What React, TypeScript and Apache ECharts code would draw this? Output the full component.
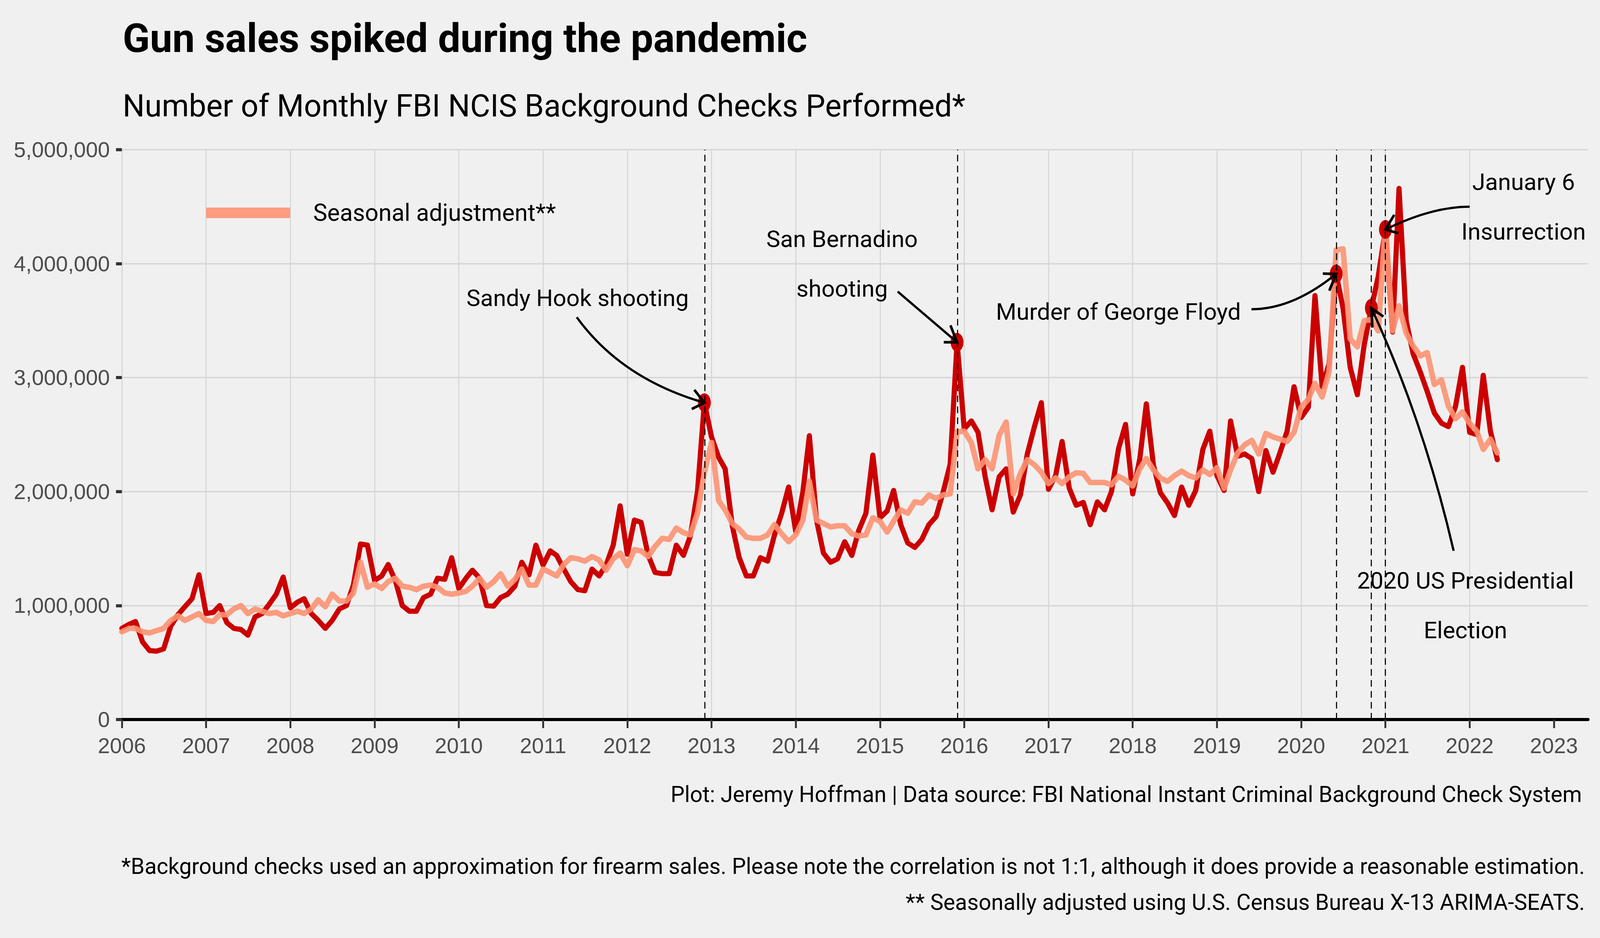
import { useEffect, useRef } from "react";
import * as echarts from "echarts";

// Monthly FBI NICS background checks (millions), Jan 2006 – May 2022
const monthlyChecks = [
  0.8, 0.835, 0.86, 0.68, 0.605, 0.6, 0.62, 0.82, 0.92, 0.99, 1.06, 1.27, // 2006
  0.93, 0.94, 1.0, 0.85, 0.8, 0.79, 0.74, 0.9, 0.93, 1.01, 1.1, 1.25, // 2007
  0.98, 1.03, 1.06, 0.93, 0.87, 0.8, 0.87, 0.97, 1.0, 1.18, 1.54, 1.53, // 2008
  1.22, 1.26, 1.36, 1.22, 1.0, 0.95, 0.95, 1.07, 1.1, 1.24, 1.23, 1.42, // 2009
  1.15, 1.24, 1.31, 1.24, 1.0, 0.995, 1.07, 1.1, 1.17, 1.38, 1.27, 1.53, // 2010
  1.355, 1.48, 1.44, 1.32, 1.21, 1.14, 1.13, 1.32, 1.26, 1.355, 1.53, 1.875, // 2011
  1.45, 1.75, 1.73, 1.44, 1.29, 1.28, 1.28, 1.53, 1.44, 1.61, 2.0, 2.78, // 2012
  2.48, 2.3, 2.2, 1.7, 1.42, 1.26, 1.26, 1.42, 1.39, 1.62, 1.81, 2.04, // 2013
  1.65, 2.0, 2.49, 1.75, 1.46, 1.38, 1.41, 1.56, 1.44, 1.66, 1.81, 2.32, // 2014
  1.77, 1.83, 2.01, 1.71, 1.55, 1.51, 1.58, 1.71, 1.78, 1.99, 2.24, 3.31, // 2015
  2.55, 2.62, 2.52, 2.13, 1.84, 2.13, 2.2, 1.82, 1.97, 2.33, 2.57, 2.78, // 2016
  2.02, 2.14, 2.44, 2.03, 1.88, 1.905, 1.71, 1.91, 1.84, 2.0, 2.38, 2.59, // 2017
  1.98, 2.29, 2.77, 2.23, 1.99, 1.9, 1.79, 2.04, 1.88, 2.01, 2.37, 2.53, // 2018
  2.14, 2.01, 2.62, 2.31, 2.33, 2.29, 2.0, 2.36, 2.17, 2.34, 2.53, 2.92, // 2019
  2.65, 2.74, 3.72, 2.92, 3.12, 3.91, 3.61, 3.09, 2.85, 3.29, 3.61, 3.89, // 2020
  4.3, 3.4, 4.66, 3.5, 3.21, 3.05, 2.88, 2.69, 2.6, 2.57, 2.75, 3.09, // 2021
  2.52, 2.5, 3.02, 2.53, 2.28, // 2022
];

// Seasonally adjusted series (millions)
const seasonalAdjusted = [
  0.77, 0.8, 0.8, 0.77, 0.76, 0.78, 0.8, 0.87, 0.91, 0.87, 0.9, 0.93, // 2006
  0.87, 0.86, 0.92, 0.92, 0.97, 1.0, 0.93, 0.97, 0.95, 0.93, 0.94, 0.91, // 2007
  0.93, 0.95, 0.93, 0.97, 1.05, 0.99, 1.1, 1.04, 1.04, 1.11, 1.38, 1.16, // 2008
  1.19, 1.15, 1.21, 1.24, 1.17, 1.16, 1.14, 1.17, 1.18, 1.16, 1.11, 1.1, // 2009
  1.11, 1.125, 1.17, 1.24, 1.16, 1.21, 1.28, 1.17, 1.23, 1.32, 1.18, 1.18, // 2010
  1.32, 1.29, 1.26, 1.36, 1.42, 1.41, 1.39, 1.43, 1.4, 1.31, 1.41, 1.46, // 2011
  1.35, 1.49, 1.48, 1.43, 1.52, 1.59, 1.58, 1.68, 1.64, 1.62, 1.81, 2.17, // 2012
  2.43, 1.92, 1.84, 1.72, 1.67, 1.6, 1.59, 1.59, 1.62, 1.71, 1.63, 1.56, // 2013
  1.62, 1.75, 2.09, 1.75, 1.72, 1.69, 1.7, 1.7, 1.63, 1.61, 1.62, 1.77, // 2014
  1.74, 1.645, 1.74, 1.84, 1.81, 1.91, 1.9, 1.97, 1.94, 1.97, 1.98, 2.525, // 2015
  2.53, 2.43, 2.2, 2.28, 2.2, 2.495, 2.61, 1.98, 2.16, 2.28, 2.235, 2.17, // 2016
  2.07, 2.12, 2.07, 2.13, 2.165, 2.16, 2.08, 2.08, 2.08, 2.06, 2.135, 2.1, // 2017
  2.05, 2.2, 2.29, 2.19, 2.12, 2.09, 2.14, 2.18, 2.14, 2.12, 2.19, 2.15, // 2018
  2.21, 2.03, 2.19, 2.34, 2.41, 2.45, 2.33, 2.51, 2.48, 2.46, 2.44, 2.52, // 2019
  2.74, 2.81, 2.95, 2.83, 3.05, 4.12, 4.13, 3.34, 3.27, 3.5, 3.51, 3.41, // 2020
  4.36, 3.41, 3.63, 3.39, 3.28, 3.19, 3.22, 2.94, 2.98, 2.75, 2.64, 2.7, // 2021
  2.6, 2.53, 2.37, 2.46, 2.34, // 2022
];

const FIRST_YEAR = 2006;
const yearTicks = [
  2006, 2007, 2008, 2009, 2010, 2011, 2012, 2013, 2014, 2015, 2016, 2017,
  2018, 2019, 2020, 2021, 2022, 2023,
];

// event months (1-based) that get a dashed line and a dot
const eventYears = [2012, 2015, 2020, 2020, 2021];
const eventMonths = [12, 12, 6, 11, 1];

// annotation text, text centre, arrow start and control point, in [year, millions]
const annotations = [
  { text: "Sandy Hook shooting", at: [2011.41, 3.7], from: [2011.4, 3.53], ctrl: [2011.93, 2.99], event: 0 },
  { text: "San Bernadino\nshooting", at: [2014.55, 4.0], from: [2015.21, 3.755], ctrl: null, event: 1 },
  { text: "Murder of George Floyd", at: [2017.83, 3.58], from: [2019.41, 3.6], ctrl: [2019.9, 3.6], event: 2 },
  { text: "2020 US Presidential\nElection", at: [2021.95, 1.0], from: [2021.81, 1.48], ctrl: [2021.45, 2.63], event: 3 },
  { text: "January 6\nInsurrection", at: [2022.64, 4.5], from: [2022.0, 4.5], ctrl: [2021.55, 4.5], event: 4 },
];

const RED = "#cc0000";
const SALMON = "rgba(252, 146, 114, 0.9)";
const AXIS_FONT = "'Liberation Sans', Arial, sans-serif";
const TEXT_FONT = "Roboto";

function monthToYear(year: number, month: number): number {
  const start = Date.UTC(year, 0, 1);
  const end = Date.UTC(year + 1, 0, 1);
  return year + (Date.UTC(year, month - 1, 1) - start) / (end - start);
}

function indexToYear(i: number): number {
  return monthToYear(FIRST_YEAR + Math.floor(i / 12), (i % 12) + 1);
}

export default function App() {
  const ref = useRef<HTMLDivElement | null>(null);

  useEffect(() => {
    document.body.style.margin = "0";
    document.body.style.overflow = "hidden";
    const el = ref.current;
    if (!el) return;
    const W = window.innerWidth || 6000;
    const H = window.innerHeight || 2400;
    el.style.width = W + "px";
    el.style.height = H + "px";
    // layout is designed on a 6000 x 2400 frame
    const sx = W / 6000;
    const sy = H / 2400;
    const sf = Math.min(sx, sy);
    const sm = Math.sqrt(sx * sy);

    const chart = echarts.init(el, undefined, { renderer: "svg" });

    const eventIdx = eventYears.map((y, i) => (y - FIRST_YEAR) * 12 + eventMonths[i] - 1);
    const eventPoints = eventIdx.map((i) => [indexToYear(i), monthlyChecks[i] * 1e6]);

    chart.setOption({
      animation: false,
      backgroundColor: "#f0f0f0",
      textStyle: { fontFamily: TEXT_FONT },
      grid: { left: 457 * sx, right: 45 * sx, top: 383 * sy, bottom: 559 * sy },
      legend: {
        left: 773 * sx,
        top: 514 * sy,
        padding: 0,
        itemWidth: 315 * sx,
        itemHeight: 27 * sy,
        icon: "rect",
        data: ["Seasonal adjustment**"],
        selectedMode: false,
        textStyle: { fontSize: 89 * sf, color: "#000", fontFamily: TEXT_FONT, padding: [0, 0, 0, 79 * sx] },
      },
      xAxis: {
        type: "value",
        min: 2006,
        max: 2023.405,
        interval: 1,
        axisLine: { show: true, onZero: false, lineStyle: { color: "#000", width: 8 * sy } },
        axisTick: { show: true, length: 22 * sy, customValues: yearTicks, lineStyle: { color: "#333", width: 7 * sx } },
        axisLabel: {
          customValues: yearTicks,
          formatter: (v: number) => (Number.isInteger(v) ? String(v) : ""),
          fontSize: 81 * sf,
          color: "#4d4d4d",
          margin: 39 * sy,
          fontFamily: AXIS_FONT,
        },
        splitLine: { show: true, showMaxLine: false, lineStyle: { color: "#d6d6d6", width: 4 * sx } },
      },
      yAxis: {
        type: "value",
        min: 0,
        max: 5e6,
        interval: 1e6,
        axisLine: { show: false },
        axisTick: { show: true, length: 22 * sx, lineStyle: { color: "#333", width: 8 * sy } },
        axisLabel: {
          fontSize: 81 * sf,
          color: "#4d4d4d",
          margin: 45 * sx,
          fontFamily: AXIS_FONT,
          formatter: (v: number) => v.toLocaleString("en-US"),
        },
        splitLine: { show: true, lineStyle: { color: "#d6d6d6", width: 3.5 * sy } },
      },
      series: [
        {
          name: "Background checks",
          type: "line",
          symbol: "none",
          color: RED,
          lineStyle: { color: RED, width: 16 * sm, join: "round", cap: "round" },
          data: monthlyChecks.map((v, i) => [indexToYear(i), v * 1e6]),
          emphasis: { disabled: true },
          z: 2,
        },
        {
          name: "Seasonal adjustment**",
          type: "line",
          symbol: "none",
          color: SALMON,
          lineStyle: { color: SALMON, width: 17 * sm, join: "round", cap: "round" },
          data: seasonalAdjusted.map((v, i) => [indexToYear(i), v * 1e6]),
          emphasis: { disabled: true },
          z: 3,
        },
        {
          name: "Events",
          type: "scatter",
          symbol: "circle",
          symbolSize: [48 * sx, 48 * sy],
          itemStyle: { color: RED, opacity: 1 },
          data: eventPoints,
          emphasis: { disabled: true },
          z: 4,
          markLine: {
            silent: true,
            symbol: ["none", "none"],
            label: { show: false },
            lineStyle: { color: "#000", width: 4 * sx, type: [17 * sy, 11 * sy] },
            data: eventIdx.map((i) => ({ xAxis: indexToYear(i) })),
          },
        },
      ],
    });

    const px = (p: number[]) => chart.convertToPixel({ gridIndex: 0 }, [p[0], p[1] * 1e6]) as number[];
    const graphics: any[] = [];

    annotations.forEach((a) => {
      const start = px(a.from);
      const end = chart.convertToPixel({ gridIndex: 0 }, eventPoints[a.event]) as number[];
      const c = a.ctrl ? px(a.ctrl) : [(start[0] + end[0]) / 2, (start[1] + end[1]) / 2];
      const at = px(a.at);
      graphics.push({
        type: "text",
        x: at[0],
        y: at[1],
        z: 20,
        style: {
          text: a.text,
          fontSize: 88 * sf,
          fontFamily: TEXT_FONT,
          fill: "#000",
          align: "center",
          verticalAlign: "middle",
          lineHeight: 127 * sy,
        },
      });
      graphics.push({
        type: "bezierCurve",
        z: 20,
        shape: { x1: start[0], y1: start[1], x2: end[0], y2: end[1], cpx1: c[0], cpy1: c[1] },
        style: { stroke: "#000", lineWidth: 7 * sm, fill: null },
      });
      // arrow head, drawn in the 6000 x 2400 frame then mapped back
      const ang = Math.atan2((c[1] - end[1]) / sy, (c[0] - end[0]) / sx);
      const len = 50;
      const spread = Math.PI / 6;
      graphics.push({
        type: "polyline",
        z: 20,
        shape: {
          points: [
            [end[0] + len * sx * Math.cos(ang + spread), end[1] + len * sy * Math.sin(ang + spread)],
            [end[0], end[1]],
            [end[0] + len * sx * Math.cos(ang - spread), end[1] + len * sy * Math.sin(ang - spread)],
          ],
        },
        style: { stroke: "#000", lineWidth: 8 * sm, fill: null },
      });
    });

    const textEl = (text: string, x: number, y: number, size: number, align: string, weight = "normal") => ({
      type: "text",
      x: x * sx,
      y: y * sy,
      z: 20,
      style: {
        text,
        fontSize: size * sf,
        fontFamily: TEXT_FONT,
        fontWeight: weight,
        fill: "#000",
        align,
        verticalAlign: "middle",
      },
    });

    graphics.push(textEl("Gun sales spiked during the pandemic", 460, 98, 150, "left", "bold"));
    graphics.push(textEl("Number of Monthly FBI NCIS Background Checks Performed*", 460, 271, 116, "left"));
    graphics.push(
      textEl("Plot: Jeremy Hoffman | Data source: FBI National Instant Criminal Background Check System", 5932, 2032, 83, "right")
    );
    graphics.push(
      textEl(
        "*Background checks used an approximation for firearm sales. Please note the correlation is not 1:1, although it does provide a reasonable estimation.",
        5943,
        2216,
        83,
        "right"
      )
    );
    graphics.push(textEl("** Seasonally adjusted using U.S. Census Bureau X-13 ARIMA-SEATS.", 5943, 2308, 83, "right"));

    chart.setOption({ graphic: graphics });

    return () => {
      chart.dispose();
    };
  }, []);

  return <div ref={ref} style={{ width: 6000, height: 2400 }} />;
}
